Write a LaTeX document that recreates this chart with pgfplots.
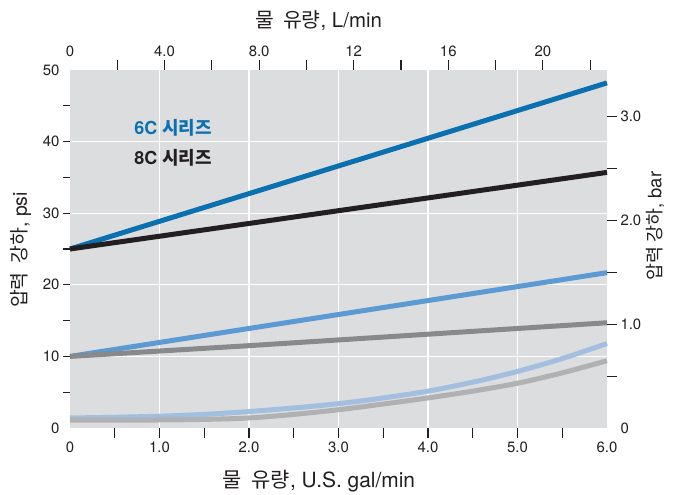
\documentclass[border=0pt]{standalone}
\usepackage{pgfplots}
\pgfplotsset{compat=1.18}
\usepackage{fontspec}
\setmainfont{TeX Gyre Heros}
\newfontfamily\kr{Noto Sans CJK KR}
\definecolor{bgc}{HTML}{DCDDDF}
\definecolor{cdark}{HTML}{0A70B0}
\definecolor{cblack}{HTML}{231F20}
\definecolor{cmid}{HTML}{5B9AD2}
\definecolor{cgray}{HTML}{88898B}
\definecolor{clight}{HTML}{A3BFE0}
\definecolor{clgray}{HTML}{B0B1B3}
\definecolor{txt}{HTML}{231F20}
\begin{document}
\begin{tikzpicture}
\pgfplotsset{
  base/.style={
    scale only axis, width=537bp, height=358bp,
    axis line style={draw=none},
    tick align=outside,
    tick style={line width=1.1bp, color=txt},
    ticklabel style={font=\fontsize{15}{17}\selectfont, text=txt},
    /pgf/number format/assume math mode=true,
  }
}
% main axis: background, grid, curves, left ticks
\begin{axis}[base, name=main,
  xmin=0, xmax=6, ymin=0, ymax=50,
  axis background/.style={fill=bgc},
  xtick={1,2,3,4,5}, xticklabels={}, xtick style={draw=none},
  ytick={10,20,30,40}, yticklabels={10,20,30,40},
  minor ytick={5,15,25,35,45},
  extra y ticks={0,50}, extra y tick labels={0,50},
  extra y tick style={grid=none, major tick style={draw=none}},
  major tick length=7bp, minor tick length=7bp,
  axis x line*=bottom, axis y line*=left,
  xmajorgrids, ymajorgrids,
  major grid style={white, line width=1.2bp},
  ylabel={{\kr 압력\ \ 강하}, psi},
  ylabel style={font=\fontsize{19.5}{21}\selectfont, text=txt, at={(axis description cs:-0.0912,0.497)}, anchor=center},
  clip=false,
]
\addplot[cmid, line width=5bp] coordinates {(0,10) (6,21.7)};
\addplot[cgray, line width=5bp] coordinates {(0,10) (2,11.5) (4,13.1) (6,14.7)};
\addplot[cdark, line width=5bp] coordinates {(0,25) (6,48.2)};
\addplot[cblack, line width=5bp] coordinates {(0,25) (6,35.7)};
\addplot[clight, line width=5bp, smooth] coordinates {
 (0,1.4) (0.5,1.5) (1,1.65) (1.5,1.9) (2,2.3) (2.5,2.8) (3,3.4) (3.5,4.2) (4,5.15) (4.5,6.4) (5,7.9) (5.5,9.7) (6,11.8)};
\addplot[clgray, line width=5bp, smooth] coordinates {
 (0,1.1) (0.5,1.1) (1,1.12) (1.5,1.2) (2,1.4) (2.5,1.9) (3,2.55) (3.5,3.35) (4,4.2) (4.5,5.15) (5,6.25) (5.5,7.7) (6,9.4)};
\node[anchor=west, text=cdark, font=\bfseries\fontsize{18}{20}\selectfont] at (axis cs:0.68,41.9) {6C {\kr 시리즈}};
\node[anchor=west, text=cblack, font=\bfseries\fontsize{18}{20}\selectfont] at (axis cs:0.68,37.7) {8C {\kr 시리즈}};
\end{axis}
% bottom axis
\begin{axis}[base,
  xmin=0, xmax=6, ymin=0, ymax=50,
  hide y axis, axis x line*=bottom,
  xtick={1,2,3,4,5}, xticklabels={1.0,2.0,3.0,4.0,5.0},
  minor xtick={0.5,1.5,2.5,3.5,4.5,5.5},
  extra x ticks={0,6}, extra x tick labels={0,6.0},
  extra x tick style={major tick style={draw=none}},
  major tick length=10bp, minor tick length=10bp,
  xlabel={{\kr 물\ \ 유량}, U.S. gal/min},
  xlabel style={font=\fontsize{21}{23}\selectfont, text=txt, at={(axis description cs:0.4637,0)}, anchor=center, yshift=-53bp},
]
\addplot[draw=none] coordinates {(0,0)};
\end{axis}
% top and right axis
\begin{axis}[base,
  xmin=0, xmax=22.7125, ymin=0, ymax=3.44738,
  axis x line*=top, axis y line*=right,
  xtick={2,4,...,22}, xticklabels={,4.0,,8.0,,12,,16,,20,},
  extra x ticks={0}, extra x tick labels={0},
  ytick={1,2,3}, yticklabels={1.0,2.0,3.0},
  minor ytick={0.5,1.5,2.5},
  extra y ticks={0}, extra y tick labels={0},
  extra x tick style={major tick style={draw=none}},
  extra y tick style={major tick style={draw=none}},
  major tick length=10bp, minor tick length=10bp,
  xlabel={{\kr 물\ \ 유량}, L/min},
  xlabel style={font=\fontsize{20.5}{22}\selectfont, text=txt, at={(axis description cs:0.4628,1)}, anchor=center, yshift=49bp},
  ylabel={{\kr 압력\ 강하}, bar},
  ylabel style={font=\fontsize{18.5}{20}\selectfont, text=txt, at={(axis description cs:1.0894,0.564)}, anchor=center},
]
\addplot[draw=none] coordinates {(0,0)};
\end{axis}
\pgfresetboundingbox
\path[use as bounding box] (main.south west) ++(-70bp,-67bp) rectangle ++(675bp,495bp);
\end{tikzpicture}
\end{document}
